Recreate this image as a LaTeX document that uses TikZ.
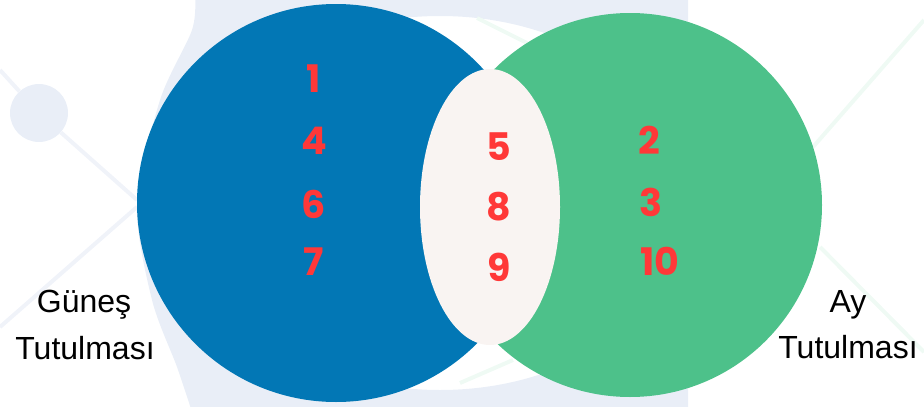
\documentclass[tikz,border=0pt]{standalone}
\usepackage{fontspec}
\setmainfont{Liberation Sans}
\newfontfamily\numfont{Poppins}
\usepackage{xcolor}
\usetikzlibrary{shapes.geometric}
\definecolor{sunblue}{HTML}{0277B5}
\definecolor{moongreen}{HTML}{4DC18A}
\definecolor{bothfill}{HTML}{F9F4F2}
\definecolor{numred}{HTML}{FF3838}
\definecolor{wmblue}{HTML}{E9EEF7}
\definecolor{wmgreen}{HTML}{EFFAF4}

\begin{document}
\begin{tikzpicture}[x=1pt,y=-1pt,
  set/.style={circle,inner sep=0pt,minimum size=#1},
  num/.style={font=\numfont\bfseries\fontsize{38}{40}\selectfont,text=numred,inner sep=0pt},
  lbl/.style={font=\fontsize{32}{38}\selectfont,anchor=base,inner sep=0pt},
  wmline/.style={line width=4pt}]

  \useasboundingbox (0,0) rectangle (924,407);

  % --- faint background ---
  \begin{scope}
    \clip (0,0) rectangle (688,407);
    \fill[wmblue,even odd rule]
      plot[smooth] coordinates {(195,-5) (192,30) (160,100) (137,205)
        (152,300) (177,367) (192,412)} -- (700,412) -- (700,-5) -- cycle
      (440,203) ellipse [x radius=250pt,y radius=187pt];
  \end{scope}
  \node[set=58pt,fill=wmblue] (dot) at (39,113) {};
  \draw[wmline,wmblue!70] (0,70) -- (dot);
  \draw[wmline,wmblue!70] (dot) -- (137,200);
  \draw[wmline,wmblue!70] (0,327) -- (137,207);
  \draw[wmline,wmgreen] (813,147) -- (924,20);
  \draw[wmline,wmgreen] (820,247) -- (924,352);
  \draw[wmline,wmgreen] (477,18) -- (527,43);
  \draw[wmline,wmgreen] (513,360) -- (460,383);

  % --- the two sets ---
  \node[set=398pt,fill=sunblue] (sun) at (336,203) {};
  \node[set=384pt,fill=moongreen] (moon) at (630,205) {};
  \node[ellipse,inner sep=0pt,minimum width=140pt,minimum height=276pt,
    fill=bothfill] (both) at (490,207) {};

  % --- only sun ---
  \node[num] (s1) at (314,79) {1};
  \node[num] (s4) at (314,141) {4};
  \node[num] (s6) at (314,204) {6};
  \node[num] (s7) at (314,262) {7};

  % --- both ---
  \node[num] (b5) at (499,147) {5};
  \node[num] (b8) at (499,207) {8};
  \node[num] (b9) at (499,267) {9};

  % --- only moon ---
  \node[num] (m2) at (649,140) {2};
  \node[num] (m3) at (651,202) {3};
  \node[num] (m10) at (660,261) {10};

  % --- labels ---
  \node[lbl] (sunA) at (84,312) {Güneş};
  \node[lbl] (sunB) at (85,359) {Tutulması};
  \node[lbl] (moonA) at (848,312) {Ay};
  \node[lbl] (moonB) at (848,358) {Tutulması};
\end{tikzpicture}
\end{document}
